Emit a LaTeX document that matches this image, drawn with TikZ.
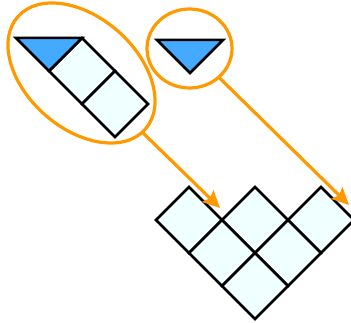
\documentclass[tikz,border=0pt]{standalone}
\usetikzlibrary{shapes.geometric,arrows.meta}
\definecolor{tileblue}{HTML}{44AAFF}
\definecolor{tilecell}{HTML}{F0FFFF}
\definecolor{ringorange}{HTML}{FF9900}
\begin{document}
\begin{tikzpicture}[x=1pt,y=-1pt,
  cell/.style={draw=black,fill=tilecell,line width=2.5pt},
  wedge/.style={draw=black,fill=tileblue,line width=2.5pt},
  ring/.style={draw=ringorange,line width=3.2pt,ellipse,inner sep=0pt,outer sep=0pt},
  arr/.style={ringorange,line width=3.2pt,-{Stealth[length=17pt,width=16pt,inset=3pt]}}]
\useasboundingbox (0,0) rectangle (351,323);
% left piece
\foreach \cx/\cy in {82/71, 115/104}
  \draw[cell] (\cx-33,\cy) -- ++(33,-33) -- ++(33,33) -- ++(-33,33) -- cycle;
\draw[wedge] (16,38) -- (82,38) -- (49,71) -- cycle;
% right piece
\draw[wedge] (157,40) -- (223,40) -- (190,73) -- cycle;
% target shape
\foreach \cx/\cy in {189/220, 255/220, 321/220, 222/253, 288/253, 255/286}
  \draw[cell] (\cx-33,\cy) -- ++(33,-33) -- ++(33,33) -- ++(-33,33) -- cycle;
% selections
\node[ring, rotate=-41.5, minimum width=170pt, minimum height=111pt] (leftsel) at (81.5,73) {};
\node[ring, minimum width=85pt, minimum height=79pt] (rightsel) at (189.5,48.5) {};
\coordinate (tipA) at (220,208);
\coordinate (tipB) at (349,205);
\draw[arr] (leftsel) -- (tipA);
\draw[arr] (rightsel) -- (tipB);
\end{tikzpicture}
\end{document}
